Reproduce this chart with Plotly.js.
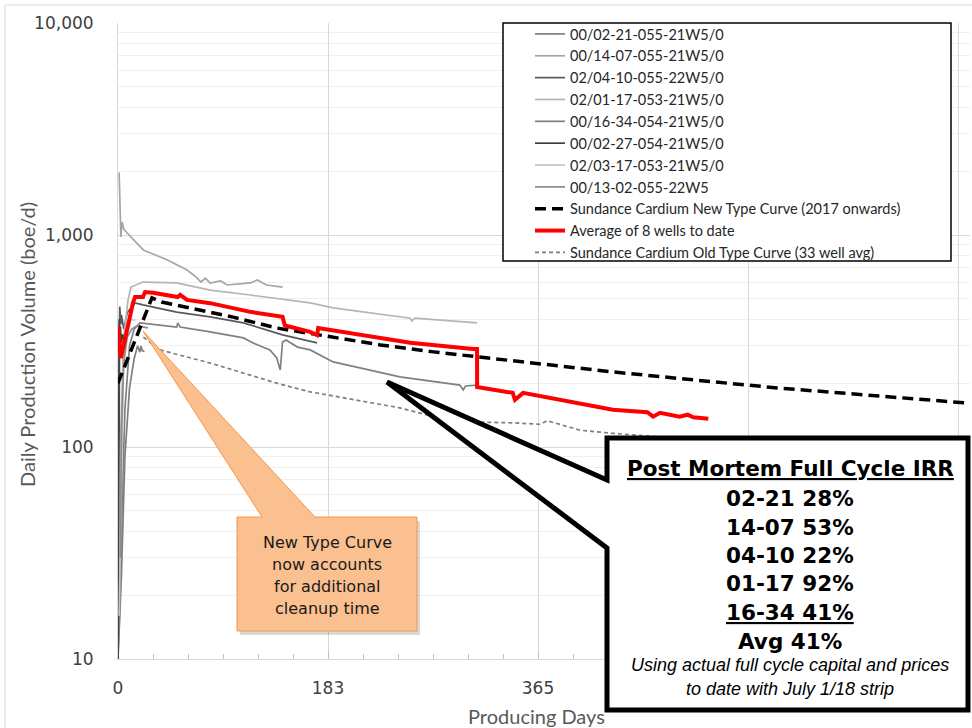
<!DOCTYPE html>
<html><head><meta charset="utf-8">
<script src="https://cdn.plot.ly/plotly-3.0.1.min.js"></script>
<style>html,body{margin:0;padding:0;background:#fff}#chart{width:972px;height:728px}</style>
</head><body><div id="chart"></div>
<script>
// ---------------- DATA ----------------
const wellNames = ["00/02-21-055-21W5/0","00/14-07-055-21W5/0","02/04-10-055-22W5/0","02/01-17-053-21W5/0",
                   "00/16-34-054-21W5/0","00/02-27-054-21W5/0","02/03-17-053-21W5/0","00/13-02-055-22W5"];
const wellColors = ["#808080","#a6a6a6","#595959","#b5b5b5","#7f7f7f","#404040","#c4c4c4","#8c8c8c"];

const w1Days = [0,1,3,6,10,14,19,30,51,52,54,80,109,117,132,138,141,143,146,156,167,187,245,297,300,302,312];
const w1Vals = [10.5,14,40,150,300,360,385,380,368,385,368,349,327,310,287,263,231,313,320,296,287,252,214,196,186,194,196];
const w2Days = [0.8,1,2.5,3.5,5,8,22,43,60,68,72,76,80,89,95,115,121,129,143];
const w2Vals = [1960,1960,979,1151,1067,1022,850,762,684,633,600,625,594,607,581,594,613,581,568];
const w3Days = [0,1,1.5,2.5,3,5,8,14.8,21.7,51,80,109,143,173];
const w3Vals = [10,60,460,380,420,360,430,478,468,433,411,385,338,310];
const w4Days = [0,2,5,8.7,11.3,21.7,51,80,115,167,187,254,255.5,258,312];
const w4Vals = [10,100,330,493,568,600,594,550,521,478,453,405,393,405,385];
const w5Days = [0,3,6,10,14,17,19,20,21,23];
const w5Vals = [10,25,90,190,260,300,280,300,285,282];
const w6Days = [0,0.5,1,1.5,2,3,4,5];
const w6Vals = [10,200,400,330,370,310,340,320];
const w7Days = [1,3,5,8,12,15];
const w7Vals = [16,80,300,390,400,395];
const w8Days = [2,3,5,8,12,16,20,26];
const w8Vals = [30,120,250,330,360,372,370,365];

const newTcDays = [0,29.5,38,100,138,228,274,367,430,517,573,739];
const newTcVals = [200,505,483,410,364,303,281,246,226,203,190,161];

const avgDays = [0,2.5,13,14.8,21.7,23.5,30.4,52,54,60,80,115,143,145,167,173,174,254,308.5,312,312.1,343,345,352,430,460,465,471,488,495,500,513];
const avgVals = [370,263,478,510,510,538,534,510,522,494,477,434,411,374,349,337,364,310,290,290,192,180,167,180,150,146,139,145,139,142,138,136];

const oldTcDays = [22,36.5,80,108.6,138,167,204,245,274,315,343,367,373,401.5,430,448,506];
const oldTcVals = [330,287,249,223,200,182,167,153,139,131,130,128,133,120,116,114,108];

const xTickVals = [0,182.5,365,547.5,730];
const xTickText = ["0","183","365","",""];   // 548 and 730 sit behind the IRR box
const yTickVals = [10,100,1000,10000];
const yTickText = ["10","100","1,000","10,000"];

const xTitle = "Producing Days";
const yTitle = "Daily Production Volume (boe/d)";
const irrTitle = "Post Mortem Full Cycle IRR";
const irrLines = ["02-21 28%","14-07 53%","04-10 22%","01-17 92%","16-34 41%","Avg 41%"];
const irrNotes = ["Using actual full cycle capital and prices","to date with July 1/18 strip"];
const calloutLines = ["New Type Curve","now accounts","for additional","cleanup time"];

// ---------------- TRACES ----------------
const wellDays = [w1Days,w2Days,w3Days,w4Days,w5Days,w6Days,w7Days,w8Days];
const wellVals = [w1Vals,w2Vals,w3Vals,w4Vals,w5Vals,w6Vals,w7Vals,w8Vals];
const traces = [];
for (let i=0;i<8;i++){
  traces.push({x:wellDays[i], y:wellVals[i], name:wellNames[i], type:'scatter', mode:'lines',
    line:{color:wellColors[i], width:1.7}});
}
traces.push({x:newTcDays, y:newTcVals, name:"Sundance Cardium New Type Curve (2017 onwards)", type:'scatter', mode:'lines',
  line:{color:'#000000', width:3.5, dash:'11px,6px'}});
traces.push({x:avgDays, y:avgVals, name:"Average of 8 wells to date", type:'scatter', mode:'lines',
  line:{color:'#ff0000', width:4}});
traces.push({x:oldTcDays, y:oldTcVals, name:"Sundance Cardium Old Type Curve (33 well avg)", type:'scatter', mode:'lines',
  line:{color:'#7f7f7f', width:1.7, dash:'4px,3px'}});

// ---------------- LAYOUT ----------------
const L=118, R=970, T=23, B=659;
const px = v => (v-L)/(R-L);
const py = v => (B-v)/(B-T);
const pts = a => a.map((p,i)=>(i?'L':'M')+px(p[0]).toFixed(5)+','+py(p[1]).toFixed(5)).join(' ')+' Z';

const orangePts = [[237,517],[262,517],[143,331],[315,517],[417,517],[417,631],[237,631]];
const shadowPts = orangePts.map(p=>[p[0]+3,p[1]+4]);
const blackPts = [[607,438],[968,438],[968,710],[607,710],[607,548],[387,382],[607,480]];

const shapes = [
  {type:'rect', xref:'paper', yref:'paper', x0:px(5), x1:px(990), y0:py(750), y1:py(5), line:{color:'#d9d9d9', width:1}, fillcolor:'rgba(0,0,0,0)', layer:'below'},
  {type:'rect', xref:'paper', yref:'paper', x0:px(503), x1:px(951), y0:py(261), y1:py(23), line:{color:'#000', width:1.5}, fillcolor:'#ffffff', layer:'above'},
  {type:'path', xref:'paper', yref:'paper', path:pts(shadowPts), line:{width:0}, fillcolor:'rgba(0,0,0,0.15)', layer:'above'},
  {type:'path', xref:'paper', yref:'paper', path:pts(orangePts), line:{color:'#f79646', width:1}, fillcolor:'#fac08f', layer:'above'},
  {type:'path', xref:'paper', yref:'paper', path:pts(blackPts), line:{color:'#000', width:5}, fillcolor:'#ffffff', layer:'above'}
];

const annotations = [];
const titleFont = {family:'Lato', size:20, color:'#595959'};
annotations.push({xref:'paper', yref:'paper', x:px(536), y:py(716), text:xTitle, showarrow:false, xanchor:'center', yanchor:'middle', font:titleFont});
annotations.push({xref:'paper', yref:'paper', x:px(27), y:py(345), text:yTitle, textangle:-90, showarrow:false, xanchor:'center', yanchor:'middle', font:titleFont});
const boldFont = {family:'DejaVu Sans', size:21.5, color:'#000', weight:'bold'};
annotations.push({xref:'paper', yref:'paper', x:px(790), y:py(468), text:'<u>'+irrTitle+'</u>', showarrow:false, xanchor:'center', yanchor:'middle', font:boldFont});
const irrY = [498,527,555,583,612,641];
irrLines.forEach((t,i)=>{
  annotations.push({xref:'paper', yref:'paper', x:px(790), y:py(irrY[i]), text:(i===4?'<u>'+t+'</u>':t), showarrow:false, xanchor:'center', yanchor:'middle', font:boldFont});
});
const noteY = [665,689];
irrNotes.forEach((t,i)=>{
  annotations.push({xref:'paper', yref:'paper', x:px(790), y:py(noteY[i]), text:'<i>'+t+'</i>', showarrow:false, xanchor:'center', yanchor:'middle',
    font:{family:'Liberation Sans Narrow, Arial Narrow, Liberation Sans, sans-serif', size:18, color:'#000'}});
});
const coY = [542,564,586,608];
calloutLines.forEach((t,i)=>{
  annotations.push({xref:'paper', yref:'paper', x:px(327), y:py(coY[i]), text:t, showarrow:false, xanchor:'center', yanchor:'middle',
    font:{family:'DejaVu Sans', size:16, color:'#1a1a1a'}});
});

const layout = {
  width:972, height:728,
  margin:{l:L, r:972-R, t:T, b:728-B},
  paper_bgcolor:'#ffffff', plot_bgcolor:'#ffffff',
  showlegend:true,
  legend:{x:px(530), y:py(18), xanchor:'left', yanchor:'top', bgcolor:'rgba(0,0,0,0)', borderwidth:0,
    font:{family:'Lato', size:14.5, color:'#262626'}, tracegroupgap:0, itemwidth:30},
  xaxis:{range:[0,740.4], tickmode:'array', tickvals:xTickVals, ticktext:xTickText,
    showgrid:true, gridcolor:'#d9d9d9', gridwidth:1, zeroline:false, showline:true, linecolor:'#d9d9d9', linewidth:1,
    ticks:'inside', ticklen:8, tickcolor:'#bfbfbf',
    minor:{tickmode:'linear', tick0:0, dtick:30.41667, ticks:'inside', ticklen:5, tickcolor:'#bfbfbf', showgrid:false},
    tickfont:{family:'DejaVu Sans', size:17, color:'#404040'}, ticklabelstandoff:14},
  yaxis:{type:'log', range:[1,4], tickmode:'array', tickvals:yTickVals, ticktext:yTickText,
    showgrid:true, gridcolor:'#d9d9d9', gridwidth:1, zeroline:false, showline:true, linecolor:'#d9d9d9', linewidth:1,
    ticks:'', minor:{dtick:'D1', showgrid:true, gridcolor:'#f0f0f0', ticks:''},
    tickfont:{family:'DejaVu Sans', size:17, color:'#404040'}, ticklabelstandoff:20},
  shapes:shapes, annotations:annotations
};

Plotly.newPlot('chart', traces, layout, {staticPlot:true});
</script>
</body></html>
